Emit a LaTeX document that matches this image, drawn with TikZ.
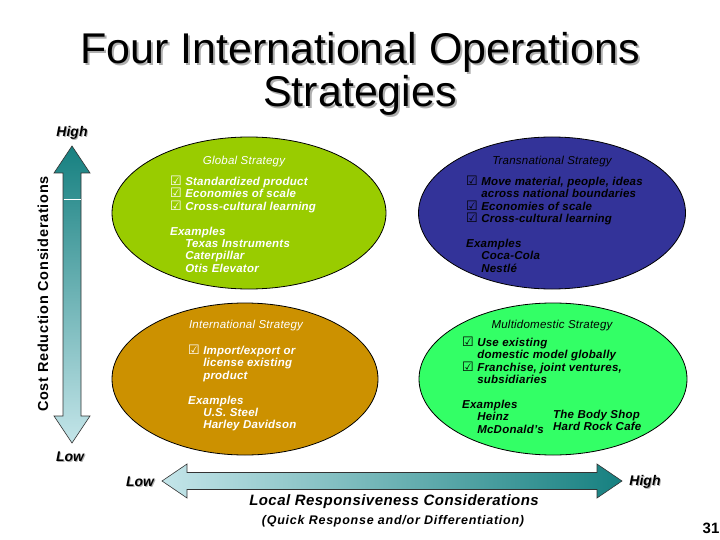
\documentclass[tikz,border=0pt]{standalone}
\usepackage{fontspec}
\setmainfont{Liberation Sans}
\newfontfamily\symfont{DejaVu Sans}
\usetikzlibrary{shapes.geometric}
\definecolor{globalc}{RGB}{153,204,0}
\definecolor{transc}{RGB}{51,51,153}
\definecolor{intlc}{RGB}{204,145,0}
\definecolor{multic}{RGB}{51,255,102}
\definecolor{tealdark}{RGB}{22,128,128}
\definecolor{tealmid}{RGB}{150,205,210}
\definecolor{teallight}{RGB}{196,229,233}
\definecolor{shadowgray}{RGB}{175,175,175}
\newcommand{\chk}{\smash{\symfont\upshape\mdseries\fontsize{13}{12}\selectfont ☑}\ }
\newcommand{\ind}{\hphantom{\chk}}
\newcommand{\shadowed}[2]{\makebox[0pt][l]{\hspace{#1}\raisebox{-#1}{\textcolor{shadowgray}{#2}}}#2}
\tikzset{
  strat/.style={ellipse, draw=black, line width=0.8pt, inner sep=0pt},
  body/.style={anchor=north west, align=left, inner sep=0pt,
    font=\fontsize{11.5}{12.4}\selectfont\bfseries\itshape\addfontfeature{LetterSpace=2}},
  stitle/.style={inner sep=0pt, font=\fontsize{11.5}{12.4}\selectfont\itshape\addfontfeature{LetterSpace=2}},
  ttl/.style={inner sep=0pt, font=\fontsize{43}{43}\selectfont},
  axislbl/.style={inner sep=0pt, font=\fontsize{14}{16}\selectfont\bfseries\itshape},
  arrowshape/.style={draw=black!80, line width=0.6pt},
}
\begin{document}
\begin{tikzpicture}[x=1pt,y=-1pt]
\useasboundingbox (0,0) rectangle (720,540);

% title
\node[ttl] (t1) at (360,53) {\shadowed{2pt}{Four International Operations}};
\node[ttl] (t2) at (360,96) {\shadowed{2pt}{Strategies}};

% vertical arrow
\path[arrowshape, top color=tealdark, bottom color=teallight]
  (72,146) -- (90,173) -- (81,173) -- (81,416) -- (90,416) -- (72,443)
  -- (54,416) -- (63,416) -- (63,173) -- (54,173) -- cycle;
\draw[white, line width=0.8pt] (63.5,199) -- (80.5,199);
\node[axislbl] (vhigh) at (72,133) {\shadowed{1pt}{High}};
\node[axislbl] (vlow) at (70,457) {\shadowed{1pt}{Low}};
\node[rotate=90, inner sep=0pt, font=\fontsize{14.5}{15}\selectfont\bfseries\addfontfeature{LetterSpace=5}] (vlabel) at (43,294) {Cost Reduction Considerations};

% horizontal arrow
\path[arrowshape, left color=teallight, middle color=tealmid, right color=tealdark]
  (162,481) -- (187,464) -- (187,472.5) -- (597,472.5) -- (597,464) -- (622,481)
  -- (597,498) -- (597,489.5) -- (187,489.5) -- (187,498) -- cycle;
\node[axislbl] (hlow) at (140,482) {\shadowed{1pt}{Low}};
\node[axislbl] (hhigh) at (645,482) {\shadowed{1pt}{High}};
\node[inner sep=0pt, font=\fontsize{15}{16}\selectfont\bfseries\itshape\addfontfeature{LetterSpace=3}] (hlabel) at (394,502) {Local Responsiveness Considerations};
\node[inner sep=0pt, font=\fontsize{12.5}{13}\selectfont\bfseries\itshape\addfontfeature{LetterSpace=6}] (hsub) at (393,521) {(Quick Response and/or Differentiation)};
\node[inner sep=0pt, font=\fontsize{15}{16}\selectfont\bfseries] (pnum) at (711,528) {31};

% ellipses
\node[strat, fill=globalc, minimum width=274pt, minimum height=152pt] (global) at (249,213) {};
\node[strat, fill=transc, minimum width=267pt, minimum height=152pt] (trans) at (552,213) {};
\node[strat, fill=intlc, minimum width=266pt, minimum height=152pt] (intl) at (245,379) {};
\node[strat, fill=multic, minimum width=268pt, minimum height=152pt] (multi) at (553,379) {};

% global text
\node[stitle, text=white] (gt) at (244,162) {Global Strategy};
\node[body, text=white] (gb) at (170,177) {\chk Standardized product\\
\chk Economies of scale\\
\chk Cross-cultural learning\\[12.4pt]
Examples\\
\ind Texas Instruments\\
\ind Caterpillar\\
\ind Otis Elevator};

% transnational text
\node[stitle, text=black] (tt) at (552,162) {Transnational Strategy};
\node[body, text=black] (tb) at (466,177) {\chk Move material, people, ideas\\
\ind across national boundaries\\
\chk Economies of scale\\
\chk Cross-cultural learning\\[12.4pt]
Examples\\
\ind Coca-Cola\\
\ind Nestlé};

% international text
\node[stitle, text=white] (it) at (246,326) {International Strategy};
\node[body, text=white] (ib) at (188,346) {\chk Import/export or\\
\ind license existing\\
\ind product\\[12.4pt]
Examples\\
\ind U.S. Steel\\
\ind Harley Davidson};

% multidomestic text
\node[stitle, text=black] (mt) at (552,326) {Multidomestic Strategy};
\node[body, text=black] (mb) at (462,338) {\chk Use existing\\
\ind domestic model globally\\
\chk Franchise, joint ventures,\\
\ind subsidiaries\\[12.4pt]
Examples\\
\ind Heinz\\
\ind McDonald's};
\node[body, text=black] (mb2) at (553,410) {The Body Shop\\Hard Rock Cafe};
\end{tikzpicture}
\end{document}
